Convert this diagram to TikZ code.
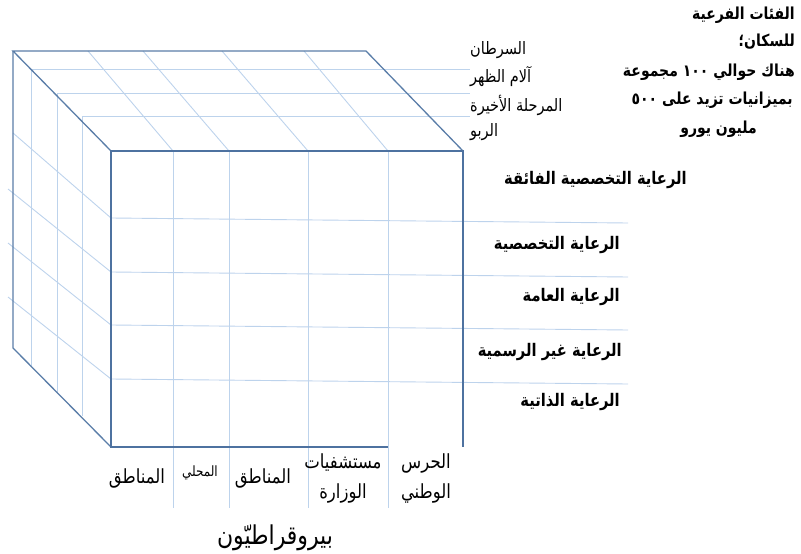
\documentclass[tikz,border=0pt]{standalone}
\usepackage{graphicx}
\usepackage{fontspec}
\TeXXeTstate=1
\newfontfamily\arabicfont[Script=Arabic]{DejaVu Sans}
\newcommand{\artxt}[1]{\scalebox{1}[1.18]{\arabicfont\beginR #1\endR}}
\definecolor{edgeblue}{HTML}{5A7DA8}
\definecolor{frontblue}{HTML}{4E72A0}
\definecolor{gridblue}{HTML}{BDD3EC}
\begin{document}
\begin{tikzpicture}[x=1pt,y=-1pt,
  outline/.style={draw=edgeblue,line width=1.3pt},
  frontline/.style={draw=frontblue,line width=2.6pt,line join=miter},
  gridline/.style={draw=gridblue,line width=0.9pt},
  lbl/.style={inner sep=0pt,font=\fontsize{14.7}{17}\selectfont\bfseries},
  toplbl/.style={inner sep=0pt,anchor=west,font=\fontsize{14.5}{16}\selectfont},
  botlbl/.style={inner sep=0pt,align=center,font=\fontsize{16.5}{30}\selectfont},
  notelbl/.style={inner sep=0pt,anchor=east,font=\fontsize{14}{16}\selectfont\bfseries}]
\useasboundingbox (0,0) rectangle (801,554);
% cube corners
\coordinate (B1) at (13,51);
\coordinate (B2) at (366,51);
\coordinate (B4) at (13,348);
\coordinate (F1) at (111,151);
\coordinate (F2) at (463,151);
\coordinate (F3) at (463,447);
\coordinate (F4) at (111,447);
\coordinate (F5) at (388,447);
% top face depth lines
\coordinate (d1) at (31,69);  \coordinate (d1e) at (470,69);
\coordinate (d2) at (57,93);  \coordinate (d2e) at (470,93);
\coordinate (d3) at (82,116); \coordinate (d3e) at (470,116);
\draw[gridline] (d1) -- (d1e) (d2) -- (d2e) (d3) -- (d3e);
% top face diagonals and front verticals
\foreach \a/\b [count=\i] in {88/173,143/229,222/308,304/388}{
  \coordinate (tb\i) at (\a,51); \coordinate (tf\i) at (\b,151);
  \draw[gridline] (tb\i) -- (tf\i);
  \coordinate (vb\i) at (\b,508);
  \draw[gridline] (tf\i) -- (vb\i);
}
% left face verticals
\coordinate (l1) at (31,366); \coordinate (l2) at (57,392); \coordinate (l3) at (82,416);
\draw[gridline] (d1) -- (l1) (d2) -- (l2) (d3) -- (l3);
% left face diagonals and front horizontals
\foreach \ya/\yb [count=\i] in {133/218,189/272,243/325,297/379}{
  \coordinate (ls\i) at (\ifnum\i=1 13\else 8\fi,\ya);
  \coordinate (le\i) at (111,\yb);
  \coordinate (re\i) at (628,\yb+5);
  \draw[gridline] (ls\i) -- (le\i) -- (re\i);
}
% outlines
\draw[outline] (F1) -- (B1) -- (B2) -- (F2);
\draw[outline] (B1) -- (B4) -- (F4);
\draw[frontline] (F5) -- (F4) -- (F1) -- (F2) -- (F3);
% top labels
\node[toplbl] (t1) at (470,50) {\artxt{السرطان}};
\node[toplbl] (t2) at (470,77) {\artxt{آلام الظهر}};
\node[toplbl] (t3) at (470,105) {\artxt{المرحلة الأخيرة}};
\node[toplbl] (t4) at (470,132) {\artxt{الربو}};
% note
\node[notelbl] (n1) at (795,15) {\artxt{الفئات الفرعية}};
\node[notelbl] (n2) at (795,42) {\artxt{للسكان؛}};
\node[notelbl] (n3) at (795,72) {\artxt{هناك حوالي ١٠٠ مجموعة}};
\node[notelbl] (n4) at (793,100) {\artxt{بميزانيات تزيد على ٥٠٠}};
\node[notelbl] (n5) at (757,129) {\artxt{مليون يورو}};
% right labels
\node[lbl,anchor=east] (r0) at (687,180) {\artxt{الرعاية التخصصية الفائقة}};
\node[lbl,anchor=east] (r1) at (620,245) {\artxt{الرعاية التخصصية}};
\node[lbl,anchor=east] (r2) at (620,297) {\artxt{الرعاية العامة}};
\node[lbl,anchor=east] (r3) at (622,352) {\artxt{الرعاية غير الرسمية}};
\node[lbl,anchor=east] (r4) at (620,402) {\artxt{الرعاية الذاتية}};
% bottom labels
\node[botlbl] (b1) at (137,478) {\artxt{المناطق}};
\node[botlbl,font=\fontsize{12}{14}\selectfont] (b2) at (200,473) {\artxt{المحلي}};
\node[botlbl] (b3) at (263,478) {\artxt{المناطق}};
\node[botlbl] (b4) at (343,478) {\artxt{مستشفيات}\\\artxt{الوزارة}};
\node[botlbl] (b5) at (426,478) {\artxt{الحرس}\\\artxt{الوطني}};
\node[inner sep=0pt,font=\fontsize{22}{24}\selectfont] (title) at (275,538) {\artxt{بيروقراطيّون}};
\end{tikzpicture}
\end{document}
